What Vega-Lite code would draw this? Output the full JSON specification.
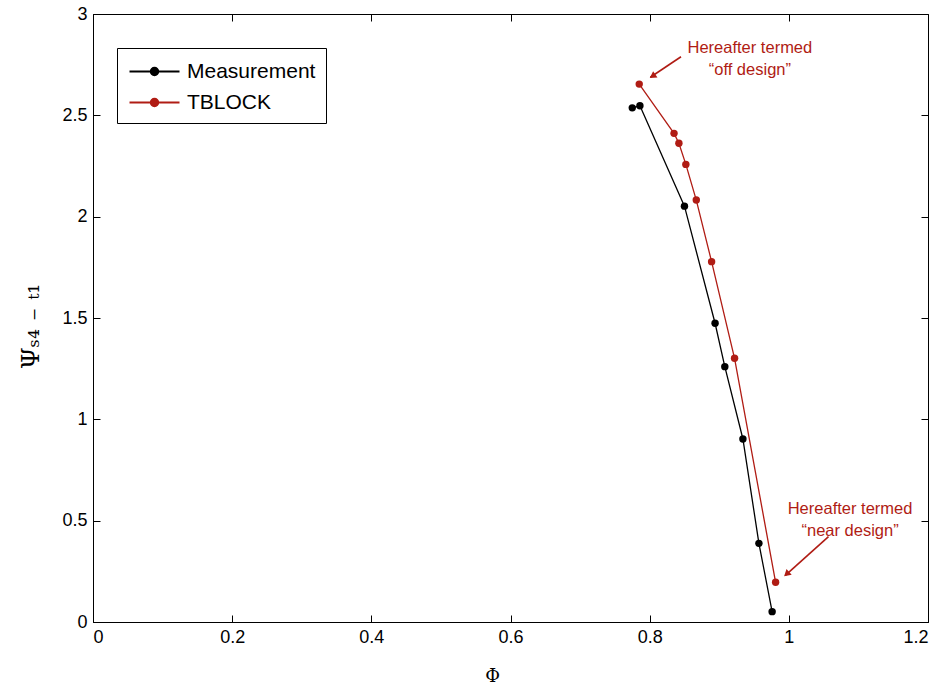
{
  "$schema": "https://vega.github.io/schema/vega-lite/v6.json",
  "width": 835,
  "height": 608,
  "autosize": {"type": "none"},
  "padding": {"left": 93, "top": 14, "right": 15, "bottom": 66},
  "background": "white",
  "config": {
    "view": {"stroke": "black", "strokeWidth": 1},
    "axis": {
      "grid": false,
      "domainColor": "black",
      "tickColor": "black",
      "labelColor": "black",
      "labelFont": "Liberation Sans",
      "labelFontSize": 18,
      "tickSize": -7,
      "labelPadding": 13,
      "titleColor": "black",
      "titleFontWeight": "normal"
    }
  },
  "datasets": {
    "series": [
      {"series": "Measurement", "k": 1, "phi": 0.775, "psi": 2.537},
      {"series": "Measurement", "k": 2, "phi": 0.786, "psi": 2.547},
      {"series": "Measurement", "k": 3, "phi": 0.850, "psi": 2.052},
      {"series": "Measurement", "k": 4, "phi": 0.894, "psi": 1.474},
      {"series": "Measurement", "k": 5, "phi": 0.908, "psi": 1.260},
      {"series": "Measurement", "k": 6, "phi": 0.934, "psi": 0.903},
      {"series": "Measurement", "k": 7, "phi": 0.957, "psi": 0.388},
      {"series": "Measurement", "k": 8, "phi": 0.976, "psi": 0.051},
      {"series": "TBLOCK", "k": 1, "phi": 0.785, "psi": 2.654},
      {"series": "TBLOCK", "k": 2, "phi": 0.835, "psi": 2.411},
      {"series": "TBLOCK", "k": 3, "phi": 0.842, "psi": 2.362},
      {"series": "TBLOCK", "k": 4, "phi": 0.852, "psi": 2.258},
      {"series": "TBLOCK", "k": 5, "phi": 0.867, "psi": 2.082},
      {"series": "TBLOCK", "k": 6, "phi": 0.889, "psi": 1.778},
      {"series": "TBLOCK", "k": 7, "phi": 0.922, "psi": 1.301},
      {"series": "TBLOCK", "k": 8, "phi": 0.981, "psi": 0.196}
    ],
    "notes": [
      {"id": "off", "label": "Hereafter termed\n“off design”", "tx": 0.944, "ty": 2.832, "x1": 0.845, "y1": 2.789, "x2": 0.801, "y2": 2.688, "hx": 0.8041, "hy": 2.693},
      {"id": "near", "label": "Hereafter termed\n“near design”", "tx": 1.088, "ty": 0.557, "x1": 1.057, "y1": 0.421, "x2": 0.995, "y2": 0.230, "hx": 0.9968, "hy": 0.2368}
    ]
  },
  "layer": [
    {
      "data": {"name": "series"},
      "mark": {"type": "line", "strokeWidth": 1.3},
      "encoding": {
        "x": {"field": "phi", "type": "quantitative", "scale": {"domain": [0, 1.2], "nice": false},
          "axis": {"orient": "bottom", "values": [0, 0.2, 0.4, 0.6, 0.8, 1, 1.2], "format": "~g", "title": "Φ", "titleFont": "DejaVu Serif", "titleFontSize": 18, "titlePadding": 21, "titleX": 399}},
        "y": {"field": "psi", "type": "quantitative", "scale": {"domain": [0, 3], "nice": false},
          "axis": {"orient": "left", "values": [0, 0.5, 1, 1.5, 2, 2.5, 3], "format": "~g", "title": "Ψₛ₄ ₋ ₜ₁", "titleFont": "DejaVu Serif", "titleFontSize": 25, "titlePadding": 18, "titleY": 312}},
        "color": {"field": "series", "type": "nominal", "scale": {"domain": ["Measurement", "TBLOCK"], "range": ["black", "#b01c14"]},
          "legend": {
            "title": null, "orient": "none", "legendX": 24, "legendY": 34,
            "strokeColor": "black", "fillColor": "white", "padding": 10,
            "labelFont": "Liberation Sans", "labelFontSize": 21, "labelColor": "black", "labelLimit": 300,
            "symbolType": "M-2,0L2,0M-0.3,0a0.3,0.3 0 1,0 0.6,0a0.3,0.3 0 1,0 -0.6,0",
            "symbolSize": 625, "symbolStrokeWidth": 2, "rowPadding": 7, "symbolOffset": 14, "labelOffset": 19,
            "encode": {"symbols": {"update": {"fill": {"scale": "color", "field": "value"}, "fillOpacity": {"value": 1}}}}
          }},
        "detail": {"field": "series"},
        "order": {"field": "k", "type": "quantitative"}
      }
    },
    {
      "data": {"name": "series"},
      "mark": {"type": "point", "filled": true, "size": 55, "opacity": 1},
      "encoding": {
        "x": {"field": "phi", "type": "quantitative", "axis": null},
        "y": {"field": "psi", "type": "quantitative", "axis": null},
        "color": {"field": "series", "type": "nominal"}
      }
    },
    {
      "data": {"name": "series"},
      "mark": {"type": "point", "opacity": 0},
      "encoding": {
        "x": {"field": "phi", "type": "quantitative", "axis": {"orient": "top", "labels": false, "title": null, "domain": false, "values": [0, 0.2, 0.4, 0.6, 0.8, 1, 1.2]}},
        "y": {"field": "psi", "type": "quantitative", "axis": {"orient": "right", "labels": false, "title": null, "domain": false, "values": [0, 0.5, 1, 1.5, 2, 2.5, 3]}}
      }
    },
    {
      "data": {"name": "notes"},
      "mark": {"type": "rule", "color": "#b01c14", "strokeWidth": 1.6},
      "encoding": {
        "x": {"field": "x1", "type": "quantitative", "axis": null},
        "y": {"field": "y1", "type": "quantitative", "axis": null},
        "x2": {"field": "x2"},
        "y2": {"field": "y2"}
      }
    },
    {
      "data": {"name": "notes"},
      "transform": [{"filter": "datum.id === 'off'"}],
      "mark": {"type": "point", "shape": "triangle-up", "filled": true, "color": "#b01c14", "size": 60, "angle": 236, "opacity": 1},
      "encoding": {
        "x": {"field": "hx", "type": "quantitative", "axis": null},
        "y": {"field": "hy", "type": "quantitative", "axis": null}
      }
    },
    {
      "data": {"name": "notes"},
      "transform": [{"filter": "datum.id === 'near'"}],
      "mark": {"type": "point", "shape": "triangle-up", "filled": true, "color": "#b01c14", "size": 60, "angle": 228, "opacity": 1},
      "encoding": {
        "x": {"field": "hx", "type": "quantitative", "axis": null},
        "y": {"field": "hy", "type": "quantitative", "axis": null}
      }
    },
    {
      "data": {"name": "notes"},
      "mark": {"type": "text", "color": "#b01c14", "font": "Liberation Sans", "fontSize": 16.5, "lineBreak": "\n", "lineHeight": 22, "align": "center", "baseline": "middle"},
      "encoding": {
        "x": {"field": "tx", "type": "quantitative", "axis": null},
        "y": {"field": "ty", "type": "quantitative", "axis": null},
        "text": {"field": "label"}
      }
    }
  ],
  "resolve": {"axis": {"x": "independent", "y": "independent"}}
}
